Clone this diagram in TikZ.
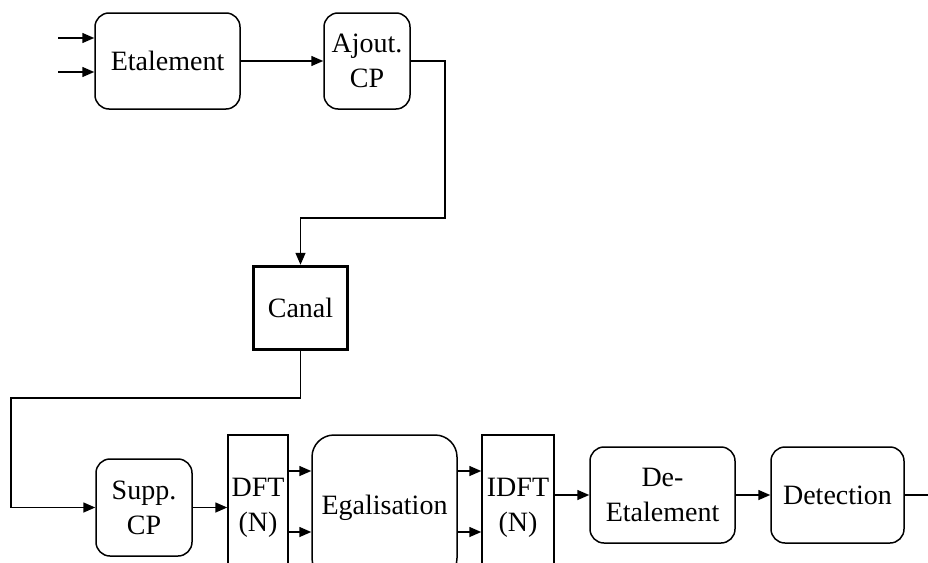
\documentclass[tikz,border=0pt]{standalone}
\usepackage{fontspec}
\setmainfont{Liberation Serif}
\usetikzlibrary{arrows.meta}
\begin{document}
\begin{tikzpicture}[x=1pt,y=-1pt,
  every node/.style={font=\fontsize{28}{35}\selectfont},
  rbox/.style={draw, line width=1.5pt, rounded corners=14pt, align=center, inner sep=0pt},
  sbox/.style={draw, line width=1.5pt, align=center, inner sep=0pt},
  conn/.style={line width=1.5pt, -{Triangle[length=12pt,width=10pt]}},
  plain/.style={line width=1.5pt}]
\useasboundingbox (0,0) rectangle (928,562);
\clip (0,0) rectangle (928,562);
\node[rbox, minimum width=145pt, minimum height=96pt] (etal) at (167.5,61) {Etalement};
\node[rbox, minimum width=86pt, minimum height=96pt] (ajout) at (367,61) {Ajout.\\CP};
\node[sbox, line width=3.5pt, minimum width=94pt, minimum height=83pt] (canal) at (300.5,308) {Canal};
\node[rbox, minimum width=96pt, minimum height=97pt] (supp) at (144,507.5) {Supp.\\CP};
\node[sbox, minimum width=60pt, minimum height=145pt] (dft) at (258,507.5) {DFT\\(N)};
\node[rbox, rounded corners=22pt, minimum width=145pt, minimum height=145pt] (egal) at (384.5,507.5) {Egalisation};
\node[sbox, minimum width=72pt, minimum height=145pt] (idft) at (518,507.5) {IDFT\\(N)};
\node[rbox, minimum width=145pt, minimum height=96pt] (deet) at (662.5,495) {De-\\Etalement};
\node[rbox, minimum width=133pt, minimum height=96pt] (detect) at (837.5,495) {Detection};
\coordinate (in1) at (58,38);
\coordinate (in2) at (58,72);
\coordinate (c1) at (445,61);
\coordinate (c2) at (445,218);
\coordinate (c3) at (11,398);
\coordinate (out) at (940,495);
\draw[conn] (in1) -- (in1 -| etal.west);
\draw[conn] (in2) -- (in2 -| etal.west);
\draw[conn] (etal.east) -- (ajout.west);
\draw[conn] (ajout.east) -- (c1) -- (c2) -- (c2 -| canal.north) -- (canal.north);
\draw[conn] (canal.south) -- (canal.south |- c3) -- (c3) -- (c3 |- supp.west) -- (supp.west);
\draw[conn] (supp.east) -- (supp.east -| dft.west);
\draw[conn] (dft.east |- 0,471) -- (egal.west |- 0,471);
\draw[conn] (dft.east |- 0,532) -- (egal.west |- 0,532);
\draw[conn] (egal.east |- 0,471) -- (idft.west |- 0,471);
\draw[conn] (egal.east |- 0,532) -- (idft.west |- 0,532);
\draw[conn] (idft.east |- deet.west) -- (deet.west);
\draw[conn] (deet.east) -- (detect.west);
\draw[conn] (detect.east) -- (out);
\end{tikzpicture}
\end{document}
